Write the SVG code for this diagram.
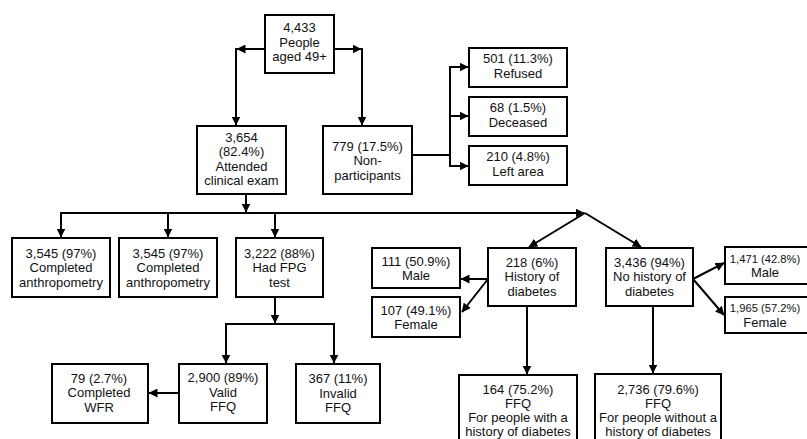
<svg xmlns="http://www.w3.org/2000/svg" width="807" height="439" viewBox="0 0 807 439">
<style>
.box{fill:#fff;stroke:#000;stroke-width:2}
.t{font-family:"Liberation Sans",Arial,sans-serif;font-size:13px;text-anchor:middle;fill:#111}
.s{font-size:11.2px}
.c{fill:none;stroke:#000;stroke-width:2}
.a{marker-end:url(#arr)}
</style>
<defs>
<marker id="arr" markerUnits="userSpaceOnUse" markerWidth="9" markerHeight="9" refX="8.5" refY="4.5" orient="auto">
<path d="M0,0 L9,4.5 L0,9 z" fill="#000"/>
</marker>
</defs>
<rect width="807" height="439" fill="#fff"/>
<g id="connectors">
<path class="c a" d="M265,49 H237"/>
<path class="c a" d="M236,48 V125"/>
<path class="c a" d="M334,49 H361"/>
<path class="c a" d="M362,48 V125"/>
<path class="c" d="M412,155 H450"/>
<path class="c" d="M450,66 V167"/>
<path class="c a" d="M449,67 H468"/>
<path class="c a" d="M449,116 H468"/>
<path class="c a" d="M449,166 H468"/>
<path class="c a" d="M246,194 V212"/>
<path class="c a" d="M60,213 H584"/>
<path class="c a" d="M61,213 V237"/>
<path class="c a" d="M168,213 V237"/>
<path class="c a" d="M275,213 V237"/>
<path class="c a" d="M585,213 L529,247"/>
<path class="c a" d="M585,213 L641,247"/>
<path class="c a" d="M275,297 V323"/>
<path class="c" d="M225,324 H335"/>
<path class="c a" d="M226,324 V363"/>
<path class="c a" d="M334,324 V363"/>
<path class="c a" d="M179,393 H149"/>
<path class="c a" d="M488,279 H461"/>
<path class="c a" d="M488,279 L462,312"/>
<path class="c a" d="M527,306 V374"/>
<path class="c a" d="M693,279 L724,263"/>
<path class="c a" d="M693,279 L724,315"/>
<path class="c a" d="M653,306 V373"/>
</g>
<g id="n-total">
<rect class="box" x="265" y="15" width="69" height="58"/>
<text class="t" x="299.5" y="32">4,433</text>
<text class="t" x="299.5" y="46.5">People</text>
<text class="t" x="299.5" y="61">aged 49+</text>
</g>
<g id="n-attended">
<rect class="box" x="197" y="126" width="89" height="68"/>
<text class="t" x="241.5" y="141.5">3,654</text>
<text class="t" x="241.5" y="156">(82.4%)</text>
<text class="t" x="241.5" y="170.5">Attended</text>
<text class="t" x="241.5" y="185">clinical exam</text>
</g>
<g id="n-nonpart">
<rect class="box" x="323" y="126" width="89" height="68"/>
<text class="t" x="367.5" y="150.5">779 (17.5%)</text>
<text class="t" x="367.5" y="165">Non-</text>
<text class="t" x="367.5" y="179.5">participants</text>
</g>
<g id="n-refused">
<rect class="box" x="469" y="48" width="98" height="39"/>
<text class="t" x="518" y="63">501 (11.3%)</text>
<text class="t" x="518" y="77.5">Refused</text>
</g>
<g id="n-deceased">
<rect class="box" x="469" y="97" width="98" height="39"/>
<text class="t" x="518" y="112">68 (1.5%)</text>
<text class="t" x="518" y="126.5">Deceased</text>
</g>
<g id="n-left">
<rect class="box" x="469" y="146" width="98" height="39"/>
<text class="t" x="518" y="161">210 (4.8%)</text>
<text class="t" x="518" y="175.5">Left area</text>
</g>
<g id="n-anthro1">
<rect class="box" x="12" y="238" width="98" height="59"/>
<text class="t" x="61" y="257.5">3,545 (97%)</text>
<text class="t" x="61" y="272">Completed</text>
<text class="t" x="61" y="286.5">anthropometry</text>
</g>
<g id="n-anthro2">
<rect class="box" x="119" y="238" width="98" height="59"/>
<text class="t" x="168" y="257.5">3,545 (97%)</text>
<text class="t" x="168" y="272">Completed</text>
<text class="t" x="168" y="286.5">anthropometry</text>
</g>
<g id="n-fpg">
<rect class="box" x="236" y="238" width="87" height="59"/>
<text class="t" x="279.5" y="257.5">3,222 (88%)</text>
<text class="t" x="279.5" y="272">Had FPG</text>
<text class="t" x="279.5" y="286.5">test</text>
</g>
<g id="n-male111">
<rect class="box" x="372" y="248" width="88" height="40"/>
<text class="t" x="416" y="266">111 (50.9%)</text>
<text class="t" x="416" y="280">Male</text>
</g>
<g id="n-female107">
<rect class="box" x="372" y="297" width="88" height="40"/>
<text class="t" x="416" y="315">107 (49.1%)</text>
<text class="t" x="416" y="329">Female</text>
</g>
<g id="n-hist">
<rect class="box" x="488" y="248" width="88" height="58"/>
<text class="t" x="532" y="266.5">218 (6%)</text>
<text class="t" x="532" y="281">History of</text>
<text class="t" x="532" y="295.5">diabetes</text>
</g>
<g id="n-nohist">
<rect class="box" x="606" y="248" width="87" height="58"/>
<text class="t" x="649.5" y="266.5">3,436 (94%)</text>
<text class="t" x="649.5" y="281">No history of</text>
<text class="t" x="649.5" y="295.5">diabetes</text>
</g>
<g id="n-male1471">
<rect class="box" x="725" y="247" width="84" height="37"/>
<text class="t s" x="765" y="262.5">1,471 (42.8%)</text>
<text class="t" x="765" y="277">Male</text>
</g>
<g id="n-female1965">
<rect class="box" x="725" y="297" width="84" height="36"/>
<text class="t s" x="765" y="312">1,965 (57.2%)</text>
<text class="t" x="765" y="326.5">Female</text>
</g>
<g id="n-wfr">
<rect class="box" x="52" y="364" width="96" height="59"/>
<text class="t" x="99" y="382.5">79 (2.7%)</text>
<text class="t" x="99" y="397">Completed</text>
<text class="t" x="99" y="411.5">WFR</text>
</g>
<g id="n-valid">
<rect class="box" x="179" y="364" width="88" height="59"/>
<text class="t" x="223" y="382">2,900 (89%)</text>
<text class="t" x="223" y="396.5">Valid</text>
<text class="t" x="223" y="411">FFQ</text>
</g>
<g id="n-invalid">
<rect class="box" x="296" y="364" width="84" height="59"/>
<text class="t" x="338" y="383">367 (11%)</text>
<text class="t" x="338" y="397.5">Invalid</text>
<text class="t" x="338" y="412">FFQ</text>
</g>
<g id="n-ffq164">
<rect class="box" x="459" y="375" width="118" height="75"/>
<text class="t" x="518" y="393.5">164 (75.2%)</text>
<text class="t" x="518" y="407.5">FFQ</text>
<text class="t" x="518" y="421.5">For people with a</text>
<text class="t" x="518" y="435.5">history of diabetes</text>
</g>
<g id="n-ffq2736">
<rect class="box" x="595" y="374" width="126" height="75"/>
<text class="t" x="658" y="393.5">2,736 (79.6%)</text>
<text class="t" x="658" y="407.5">FFQ</text>
<text class="t" x="658" y="421.5">For people without a</text>
<text class="t" x="658" y="435.5">history of diabetes</text>
</g>
</svg>
